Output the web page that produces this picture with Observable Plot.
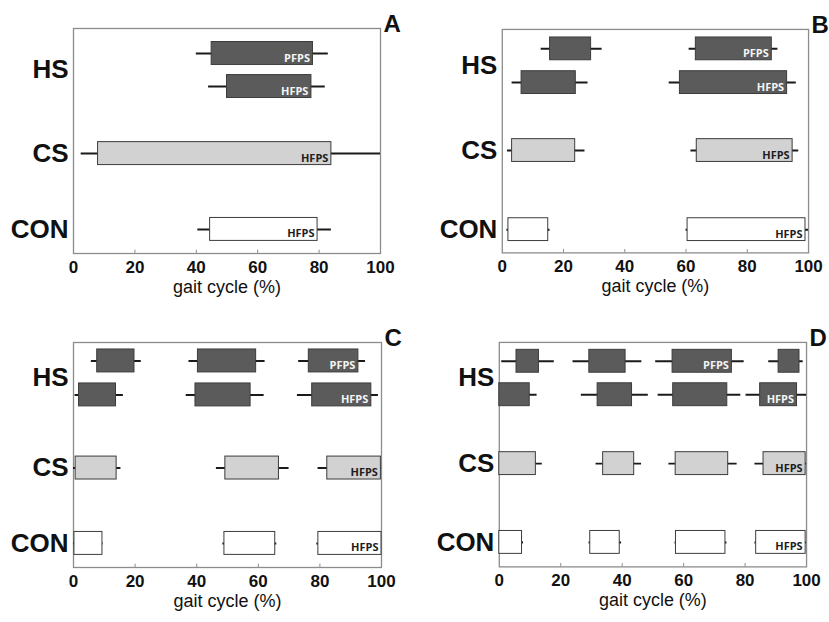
<!DOCTYPE html>
<html>
<head>
<meta charset="utf-8">
<script src="https://cdn.jsdelivr.net/npm/d3@7"></script>
<script src="https://cdn.jsdelivr.net/npm/@observablehq/plot@0.6"></script>
<style>
  body { margin: 0; background: #fff; }
  #wrap { position: relative; width: 829px; height: 622px; overflow: hidden; background: #fff; }
  .panel { position: absolute; }
</style>
</head>
<body>
<div id="wrap"></div>
<script>
// ---- categories / labels ----
const groups = ["HS", "CS", "CON"];
const rowGroup = ["HS", "HS", "CS", "CON"];          // row 0..3
const rowSubject = ["PFPS", "HFPS", "HFPS", "HFPS"]; // subject label of each row
const tickValues = [0, 20, 40, 60, 80, 100];
const axisTitle = "gait cycle (%)";
const panelLetters = ["A", "B", "C", "D"];

// ---- values: [row, whiskerLow, boxLow, boxHigh, whiskerHigh] (gait cycle %) ----
const panelA = [
  [0, 40, 45, 78, 83],
  [1, 44, 50, 77.5, 82],
  [2, 2.5, 8, 84, 100],
  [3, 40.5, 44.5, 79.5, 84]
];
const panelB = [
  [0, 12.7, 15.6, 29, 32.6], [0, 61, 63.2, 88, 90],
  [1, 3.2, 6.3, 24, 28], [1, 54.5, 58, 93, 96],
  [2, 1.7, 3.2, 23.8, 27], [2, 61.6, 63.5, 94.8, 96.8],
  [3, 1.5, 2, 15, 15.6], [3, 60, 60.5, 99, 100]
];
const panelC = [
  [0, 5.8, 7.7, 19.8, 22], [0, 37.5, 40.4, 59.3, 62.2], [0, 73.1, 76.4, 92.5, 94.8],
  [1, 0.5, 1.8, 13.8, 16.2], [1, 36.6, 39.6, 57.5, 61.9], [1, 72.7, 77.5, 96.7, 99],
  [2, 0, 0.7, 14, 15.4], [2, 46.4, 49.3, 66.7, 70], [2, 79.4, 82.4, 99.8, 100],
  [3, 0, 0.3, 9.4, 9.6], [3, 48.5, 49, 65.5, 66], [3, 79, 79.5, 100, 100]
];
const panelD = [
  [0, 0.8, 5.6, 12.9, 17.9], [0, 24, 29.3, 41.1, 46.4], [0, 50.9, 56.4, 75.7, 79.7], [0, 87.7, 90.9, 97.7, 98.9],
  [1, 0, 0, 9.9, 12.3], [1, 26.7, 32, 43.2, 48.5], [1, 51.7, 56.6, 74.2, 78.6], [1, 80.3, 84.9, 96.9, 100],
  [2, 0, 0, 11.9, 14], [2, 31.5, 33.8, 43.9, 46.3], [2, 55.2, 57.4, 74.5, 77.4], [2, 83.2, 86, 99.7, 100],
  [3, 0, 0, 7.4, 7.9], [3, 29.2, 29.6, 39.2, 39.8], [3, 57.2, 57.5, 73.6, 74.1], [3, 83.2, 83.6, 99.7, 100]
];
// which box (index within its row) carries the subject label, per row
const labelBoxA = [0, 0, 0, 0];
const labelBoxB = [1, 1, 1, 1];
const labelBoxC = [2, 2, 2, 2];
const labelBoxD = [2, 3, 3, 3];

// ---- layout (positions of panels and rows) ----
const layouts = [
  { left: 0,   top: 0,   ml: 73, mr: 35, mt: 28, mb: 57, levels: [0.111, 0.258, 0.556, 0.893] },
  { left: 415, top: 0,   ml: 87, mr: 21, mt: 29, mb: 57, levels: [0.087, 0.238, 0.542, 0.896] },
  { left: 0,   top: 310, ml: 73, mr: 34, mt: 32, mb: 53, levels: [0.082, 0.233, 0.558, 0.893] },
  { left: 415, top: 310, ml: 84, mr: 23, mt: 32, mb: 53, levels: [0.084, 0.233, 0.540, 0.891] }
];

const fillOf = { HS: "#5b5b5b", CS: "#d2d2d2", CON: "#ffffff" };
const textOf = { HS: "#f4f4f4", CS: "#1e1e1e", CON: "#1e1e1e" };
const HALF = 0.051;

function build(data, labelBox, layout, letter) {
  const lv = r => layout.levels[r];
  const counter = [0, 0, 0, 0];
  const segs = data.map(([row, wLo, lo, hi, wHi]) => ({
    row, wLo, lo, hi, wHi, group: rowGroup[row], subject: rowSubject[row], idx: counter[row]++
  }));
  const labels = segs.filter(d => d.idx === labelBox[d.row]);
  const groupLabels = groups.map(g => ({
    g,
    y: d3.mean(rowGroup.map((x, i) => (x === g ? layout.levels[i] : null)).filter(v => v != null))
  }));
  return Plot.plot({
    width: 415,
    height: 310,
    marginLeft: layout.ml,
    marginRight: layout.mr,
    marginTop: layout.mt,
    marginBottom: layout.mb,
    style: { fontFamily: "'Liberation Sans', Arial, sans-serif", background: "transparent", overflow: "visible" },
    x: { domain: [0, 100], axis: null },
    y: { domain: [0, 1], reverse: true, axis: null },
    color: { type: "identity" },
    marks: [
      Plot.frame({ stroke: "#8c8c8c", strokeWidth: 1.3 }),
      Plot.ruleX(tickValues.slice(1, -1), { x: d => d, y1: 1, y2: 0.985, stroke: "#8c8c8c", strokeWidth: 1 }),
      Plot.ruleY(segs, { y: d => lv(d.row), x1: "wLo", x2: "wHi", stroke: "#1a1a1a", strokeWidth: 2 }),
      Plot.rect(segs, {
        x1: "lo", x2: "hi",
        y1: d => lv(d.row) - HALF, y2: d => lv(d.row) + HALF,
        fill: d => fillOf[d.group], stroke: "#3c3c3c", strokeWidth: 1
      }),
      Plot.text(labels, {
        x: "hi", y: d => lv(d.row), text: "subject",
        textAnchor: "end", dx: -3, dy: 4.5,
        fill: d => textOf[d.group], fontSize: 11, fontWeight: "bold", fontFamily: "'Open Sans', sans-serif"
      }),
      Plot.text(groupLabels, {
        y: "y", text: "g", frameAnchor: "left", dx: -5, textAnchor: "end",
        fontSize: 26, fontWeight: "bold", fill: "#111"
      }),
      Plot.text(tickValues, {
        x: d => d, text: d => String(d), frameAnchor: "bottom", dy: 19,
        fontSize: 17, fontWeight: "bold", fill: "#111"
      }),
      Plot.text([axisTitle], {
        text: d => d, frameAnchor: "bottom", dy: 39, fontSize: 18, fill: "#111"
      }),
      Plot.text([letter], {
        text: d => d, frameAnchor: "top-right", dx: 3, dy: -4,
        textAnchor: "start", lineAnchor: "middle", fontSize: 24, fontWeight: "bold", fill: "#111"
      })
    ]
  });
}

const wrap = document.getElementById("wrap");
const panels = [panelA, panelB, panelC, panelD];
const labelBoxes = [labelBoxA, labelBoxB, labelBoxC, labelBoxD];
panels.forEach((data, i) => {
  const svg = build(data, labelBoxes[i], layouts[i], panelLetters[i]);
  const div = document.createElement("div");
  div.className = "panel";
  div.style.left = layouts[i].left + "px";
  div.style.top = layouts[i].top + "px";
  div.appendChild(svg);
  wrap.appendChild(div);
});
</script>
</body>
</html>
